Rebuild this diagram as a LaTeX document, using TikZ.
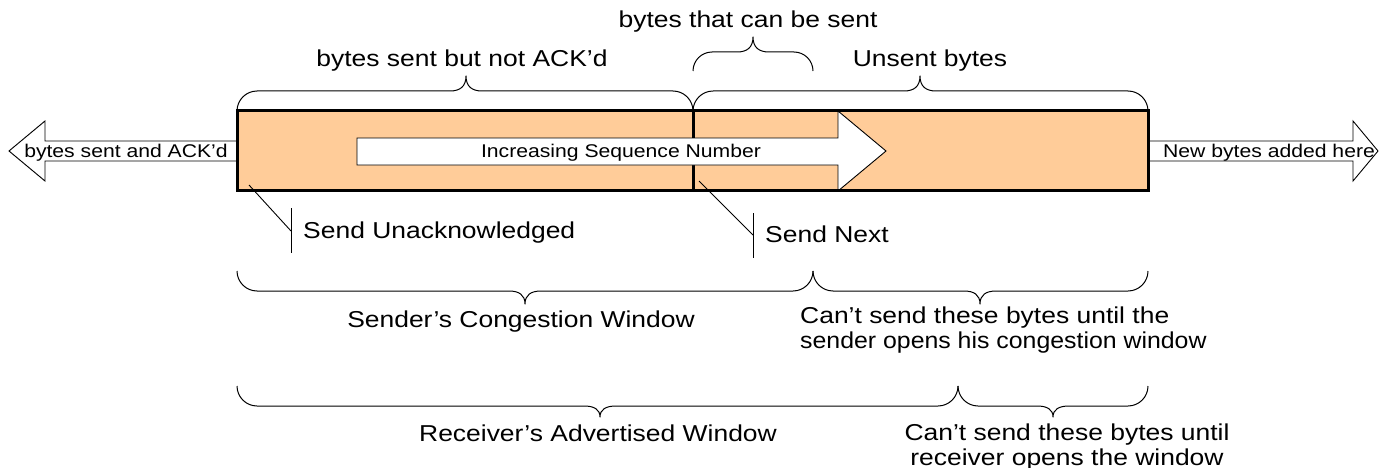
\documentclass[tikz,border=0pt]{standalone}
\usepackage{fontspec}
\setmainfont{Liberation Sans}[FakeStretch=1.15]
\definecolor{peach}{HTML}{FFCC99}
\newcommand\cbrace[7]{% x1, x2, y0, dir, h, t, xm
  \draw[brc] (#1,#3) .. controls (#1,{#3+(#4)*0.55*#5}) and ({#1+0.45*#5},{#3+(#4)*#5}) .. ({#1+#5},{#3+(#4)*#5})
   -- ({#7-16},{#3+(#4)*#5}) .. controls ({#7-6},{#3+(#4)*#5}) and (#7,{#3+(#4)*(#5+0.3*#6)}) .. (#7,{#3+(#4)*(#5+#6)})
   .. controls (#7,{#3+(#4)*(#5+0.3*#6)}) and ({#7+6},{#3+(#4)*#5}) .. ({#7+16},{#3+(#4)*#5})
   -- ({#2-#5},{#3+(#4)*#5}) .. controls ({#2-0.45*#5},{#3+(#4)*#5}) and (#2,{#3+(#4)*0.55*#5}) .. (#2,#3);}
\begin{document}
\begin{tikzpicture}[x=1pt,y=-1pt,
  lbl/.style={font=\fontsize{23}{25}\selectfont, inner sep=0pt},
  small/.style={font=\fontsize{18.4}{20}\selectfont, inner sep=0pt},
  brc/.style={line width=1pt, line join=round},
  thinl/.style={line width=0.9pt, line join=miter},
  thick border/.style={line width=3pt}]
\useasboundingbox (0,0) rectangle (1380,468);
% main bar
\node[fill=peach, draw=none, minimum width=911pt, minimum height=79pt, inner sep=0pt, outer sep=0pt, anchor=north west] (bar) at (237,111) {};
\coordinate (divtop) at (693,111);
\coordinate (divbot) at (693,190);
\draw[thick border] (divtop) -- (divbot);
% inner arrow
\draw[thinl, fill=white] (357,138) -- (838,138) -- (838,111) -- (886,151) -- (838,191) -- (838,165) -- (357,165) -- cycle;
\node[small, anchor=base] (isn) at (621,157) {Increasing Sequence Number};
% left arrow
\draw[thinl, fill=white] (bar.west |- 0,141) -- (45,141) -- (45,121) -- (9,151) -- (45,181) -- (45,161) -- (bar.west |- 0,161);
\node[small, anchor=base] (ack) at (126,157) {bytes sent and ACK’d};
% right arrow
\draw[thinl, fill=white] (bar.east |- 0,141) -- (1353,141) -- (1353,121) -- (1378,151) -- (1353,181) -- (1353,161) -- (bar.east |- 0,161);
\node[small, anchor=base] (new) at (1269,157) {New bytes added here};
\draw[thick border] (bar.north west) rectangle (bar.south east);
% callouts
\node[lbl, anchor=base west] (su) at (303,238) {Send Unacknowledged};
\coordinate (sua) at (249,185);
\coordinate (sub) at (291,231);
\draw[thinl] (sua) -- (sub);
\draw[thinl] (291,208) -- (291,253);
\node[lbl, anchor=base west] (sn) at (765,242) {Send Next};
\coordinate (sna) at (699,181);
\coordinate (snb) at (753,235);
\draw[thinl] (sna) -- (snb);
\draw[thinl] (753,213) -- (753,258);
% top labels
\node[lbl, anchor=base] (l1) at (462,67) {bytes sent but not ACK’d};
\node[lbl, anchor=base] (l2) at (748,28) {bytes that can be sent};
\node[lbl, anchor=base] (l3) at (930,67) {Unsent bytes};
% braces
\cbrace{237}{693}{111}{-1}{20}{15}{466}
\cbrace{693}{813}{71}{-1}{19}{15}{753}
\cbrace{693}{1148}{111}{-1}{20}{15}{920}
\cbrace{237}{813}{271}{1}{20}{13}{525}
\cbrace{813}{1148}{271}{1}{20}{13}{980}
\cbrace{237}{958}{386}{1}{20}{11}{600}
\cbrace{958}{1148}{386}{1}{20}{11}{1053}
% lower labels
\node[lbl, anchor=base] (scw) at (521,327) {Sender’s Congestion Window};
\node[lbl, anchor=base west] (c1a) at (800,323) {Can’t send these bytes until the};
\node[lbl, anchor=base west] (c1b) at (800,348) {\scalebox{0.94}[1]{sender opens his congestion window}};
\node[lbl, anchor=base] (raw) at (598,441) {Receiver’s Advertised Window};
\node[lbl, anchor=base] (c2a) at (1067,440) {Can’t send these bytes until};
\node[lbl, anchor=base] (c2b) at (1067,465) {receiver opens the window};
\end{tikzpicture}
\end{document}
